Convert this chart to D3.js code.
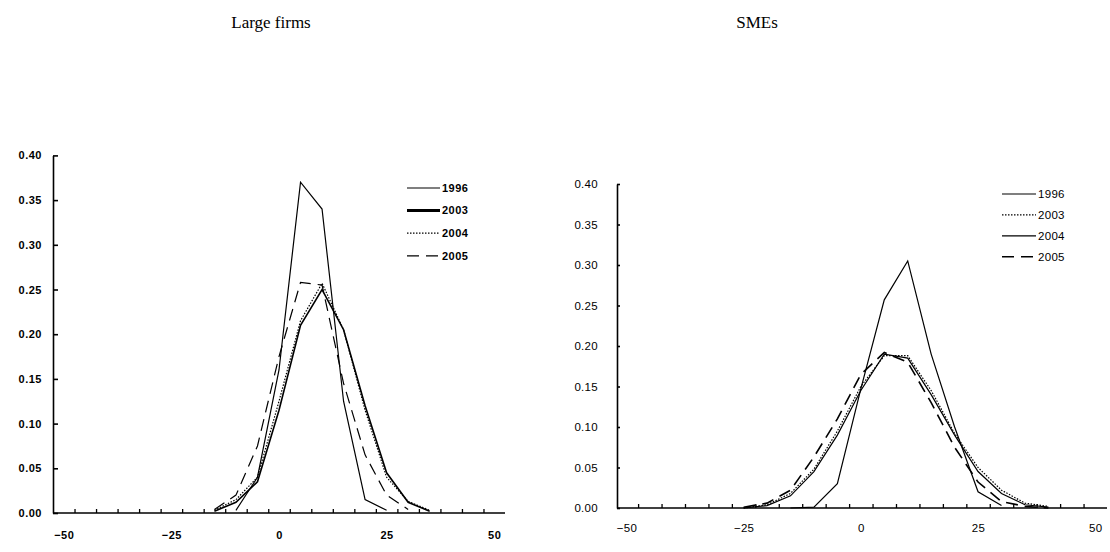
<!DOCTYPE html>
<html><head><meta charset="utf-8">
<script src="https://cdn.jsdelivr.net/npm/d3@7"></script>
<style>
body{margin:0;background:#fff;}
svg{display:block;}
.tick text{font-family:"Liberation Sans",Arial,sans-serif;}
</style></head>
<body><svg id="chart" width="1110" height="552"></svg>
<script>
// ---- data ----
const xCategories = [-50,-45,-40,-35,-30,-25,-20,-15,-10,-5,0,5,10,15,20,25,30,35,40,45,50];
const xTickLabels = [-50,-25,0,25,50];
const yTickLabels = [0,0.05,0.10,0.15,0.20,0.25,0.30,0.35,0.40];
const seriesNames = ["1996","2003","2004","2005"];

const large1996 = [null,null,null,null,null,null,null,null,0.003,0.04,0.16,0.37,0.34,0.125,0.015,0.003,null,null,null,null,null];
const large2003 = [null,null,null,null,null,null,null,0.002,0.012,0.035,0.115,0.21,0.25,0.205,0.12,0.045,0.012,0.002,null,null,null];
const large2004 = [null,null,null,null,null,null,null,0.003,0.015,0.04,0.125,0.215,0.257,0.205,0.115,0.04,0.013,0.003,null,null,null];
const large2005 = [null,null,null,null,null,null,null,0.004,0.02,0.075,0.175,0.258,0.255,0.145,0.065,0.02,0.004,null,null,null,null];

const sme1996 = [null,null,null,null,null,null,null,0,0.001,0.03,0.147,0.257,0.305,0.19,0.10,0.02,0.003,null,null,null,null];
const sme2003 = [null,null,null,null,null,0,0.004,0.018,0.048,0.095,0.15,0.188,0.188,0.145,0.092,0.05,0.022,0.006,0.002,null,null];
const sme2004 = [null,null,null,null,null,0,0.003,0.015,0.045,0.09,0.145,0.19,0.185,0.14,0.09,0.045,0.018,0.004,0.001,null,null];
const sme2005 = [null,null,null,null,null,0.001,0.006,0.022,0.063,0.11,0.165,0.192,0.18,0.13,0.075,0.032,0.008,0.002,0,null,null];

const svg = d3.select("#chart");

// titles
svg.append("text").attr("x",271).attr("y",28).attr("text-anchor","middle")
  .style("font-family","'Liberation Serif','Times New Roman',serif").style("font-size","17px").text("Large firms");
svg.append("text").attr("x",757).attr("y",28).attr("text-anchor","middle")
  .style("font-family","'Liberation Serif','Times New Roman',serif").style("font-size","17px").text("SMEs");

function panel(cfg){
  const x = d3.scaleLinear().domain(cfg.xDomain).range(cfg.xRange);
  const y = d3.scaleLinear().domain([0,0.4]).range(cfg.yRange);
  const g = svg.append("g");
  const fw = cfg.bold ? "bold" : "normal";

  // y axis
  const ya = g.append("g").attr("transform",`translate(${cfg.xRange[0]},0)`)
    .call(d3.axisLeft(y).tickValues(yTickLabels).tickFormat(d3.format(".2f"))
      .tickSizeInner(-cfg.yTick).tickSizeOuter(0).tickPadding(cfg.yPad));
  ya.selectAll("text").style("font-size",cfg.fs).style("font-weight",fw)
    .style("letter-spacing",cfg.ls).attr("fill","#000");
  ya.selectAll("line,path").attr("stroke","#000").attr("stroke-width",1.6);

  // x axis minor ticks at category boundaries
  const bounds = xCategories.slice(0,-1).map((c,i)=> (c + xCategories[i+1]) / 2);
  const xa = g.append("g").attr("transform",`translate(0,${cfg.yRange[0]})`)
    .call(d3.axisBottom(x).tickValues(bounds).tickFormat("").tickSizeInner(-4).tickSizeOuter(0));
  xa.selectAll("line").attr("stroke","#000").attr("stroke-width",1.3);
  xa.select("path").attr("stroke","#000").attr("stroke-width",1.6)
    .attr("d",`M${cfg.xRange[0]},0H${cfg.xRange[1]}`);
  const xl = g.append("g").attr("transform",`translate(0,${cfg.yRange[0]})`)
    .call(d3.axisBottom(x).tickValues(xTickLabels).tickSize(0).tickPadding(cfg.xPad));
  xl.select("path").remove();
  xl.selectAll("text").style("font-size",cfg.fs).style("font-weight",fw)
    .style("letter-spacing",cfg.ls).attr("fill","#000");

  // lines
  const line = d3.line().defined(d=>d[1]!==null).x(d=>x(d[0])).y(d=>y(d[1]));
  cfg.series.forEach((s,i)=>{
    const pts = xCategories.map((c,j)=>[c,s.values[j]]);
    g.append("path").datum(pts).attr("d",line).attr("fill","none")
      .attr("stroke","#000").attr("stroke-width",s.w)
      .attr("stroke-dasharray",s.dash||null).attr("stroke-linejoin","miter");
  });
  // legend
  cfg.series.forEach((s,i)=>{
    const ly = cfg.leg.y0 + i*cfg.leg.dy;
    g.append("line").attr("x1",cfg.leg.x1).attr("x2",cfg.leg.x2).attr("y1",ly).attr("y2",ly)
      .attr("stroke","#000").attr("stroke-width",s.lw||s.w).attr("stroke-dasharray",s.dash||null);
    g.append("text").attr("x",cfg.leg.x2+2).attr("y",ly).attr("dy","0.35em")
      .style("font-family","'Liberation Sans',Arial,sans-serif").style("font-size",cfg.fs)
      .style("font-weight",fw).style("letter-spacing",cfg.ls).text(seriesNames[i]);
  });
}

panel({
  xDomain:[-52.5,52.5], xRange:[53,505], yRange:[513,155.4], yTick:5, yPad:11, xPad:18,
  fs:"11px", bold:true, ls:"0.5px",
  leg:{x1:407,x2:440,y0:188,dy:22.6},
  series:[
    {values:large1996,w:1.2},
    {values:large2003,w:1.6,lw:3},
    {values:large2004,w:1.2,dash:"1.5,1.5"},
    {values:large2005,w:1.2,dash:"12,7"}
  ]
});
panel({
  xDomain:[-52,52.5], xRange:[617,1107], yRange:[508,184], yTick:3, yPad:19, xPad:16,
  fs:"11.5px", bold:false, ls:"0.3px",
  leg:{x1:1002,x2:1036,y0:194,dy:20.9},
  series:[
    {values:sme1996,w:1.2},
    {values:sme2003,w:1.2,dash:"1.5,1.5"},
    {values:sme2004,w:1.2},
    {values:sme2005,w:1.6,dash:"12,7"}
  ]
});
</script></body></html>
